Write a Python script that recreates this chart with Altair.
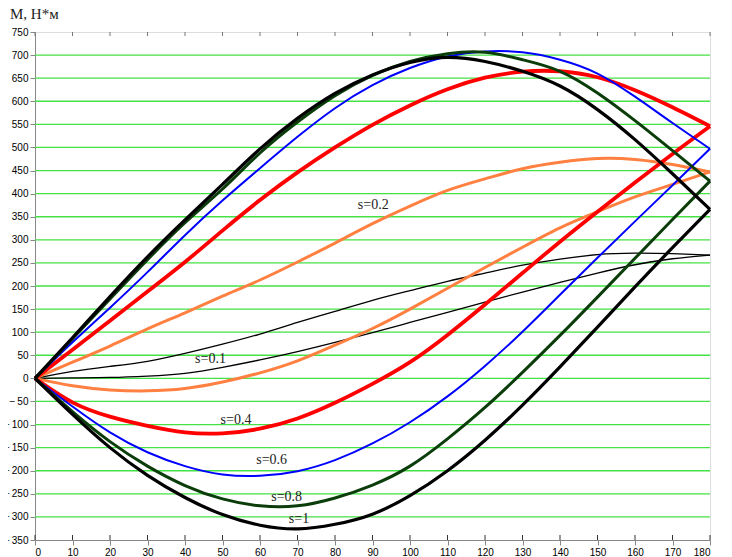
import altair as alt
import pandas as pd

# angle grid (degrees)
X_DEG = [0, 10, 20, 30, 40, 50, 60, 70, 80, 90, 100, 110, 120, 130, 140, 150, 160, 170, 180]

# moment curves, M in N*m (upper / lower branch for each s)
S01_UP = [0, 15, 26, 37, 54, 74, 96, 121, 145, 169, 190, 210, 228, 245, 258, 268, 271, 270, 267]
S01_DN = [0, 1, 2, 5, 11, 24, 40, 58, 78, 99, 121, 143, 165, 187, 208, 228, 246, 259, 267]
S02_UP = [0, 35, 70, 107, 142, 178, 213, 252, 293, 335, 373, 407, 432, 454, 468, 476, 474, 463, 447]
S02_DN = [0, -16, -25, -27, -22, -8, 12, 38, 72, 108, 150, 195, 240, 284, 326, 361, 393, 420, 447]
S04_UP = [0, 62, 125, 188, 252, 320, 386, 446, 500, 549, 591, 626, 651, 664, 665, 652, 624, 587, 546]
S04_DN = [0, -52, -83, -103, -117, -119, -109, -87, -53, -12, 35, 94, 160, 228, 296, 361, 424, 486, 546]
S06_UP = [0, 78, 153, 230, 310, 385, 455, 523, 585, 635, 672, 697, 708, 706, 690, 660, 610, 553, 497]
S06_DN = [0, -61, -117, -160, -190, -208, -211, -201, -177, -141, -95, -39, 27, 101, 181, 261, 340, 418, 497]
S08_UP = [0, 86, 172, 257, 337, 410, 488, 555, 612, 656, 686, 703, 706, 690, 665, 618, 558, 493, 427]
S08_DN = [0, -72, -137, -190, -232, -261, -276, -276, -259, -231, -190, -131, -63, 13, 93, 176, 260, 344, 427]
S10_UP = [0, 88, 177, 263, 343, 420, 497, 563, 617, 657, 684, 695, 686, 665, 633, 582, 517, 443, 366]
S10_DN = [0, -78, -150, -210, -258, -295, -318, -326, -316, -294, -254, -200, -134, -58, 25, 111, 198, 283, 366]

CURVES = [
    ("s=0.1", S01_UP, S01_DN, "#000000", 1.3),
    ("s=0.2", S02_UP, S02_DN, "#ff8040", 3.0),
    ("s=0.4", S04_UP, S04_DN, "#ff0000", 3.8),
    ("s=0.6", S06_UP, S06_DN, "#0000ff", 2.0),
    ("s=0.8", S08_UP, S08_DN, "#0b3d0b", 3.0),
    ("s=1",   S10_UP, S10_DN, "#000000", 3.2),
]

# curve labels
LABEL_TEXT = ["s=0.1", "s=0.2", "s=0.4", "s=0.6", "s=0.8", "s=1"]
LABEL_X = [46.8, 90.2, 53.6, 63.1, 67.1, 70.4]
LABEL_Y = [43, 375, -90, -176, -256, -305]

GRID_Y = [-300, -250, -200, -150, -100, -50, 0, 50, 100, 150, 200, 250, 300,
          350, 400, 450, 500, 550, 600, 650, 700]
Y_TICKS = [-350] + GRID_Y + [750]
X_TICKS = X_DEG

W, H = 675, 508
xs = alt.Scale(domain=[0, 180], nice=False, zero=False)
ys = alt.Scale(domain=[-350, 750], nice=False, zero=False)

FONT = "Liberation Serif"

base_x_axis = alt.Axis(values=X_TICKS, title=None, grid=False)
base_y_axis = alt.Axis(values=Y_TICKS, title=None, grid=False,
                       labelExpr="datum.value < 0 ? '\u2212\u2009' + abs(datum.value) : datum.label")

grid_df = pd.DataFrame({"g": GRID_Y})
grid = alt.Chart(grid_df).mark_rule(color="#44e244", strokeWidth=1.3).encode(
    y=alt.Y("g:Q", scale=ys, axis=base_y_axis),
    x=alt.value(0), x2=alt.value(W),
)

tick_df = pd.DataFrame({"t": X_TICKS})
ticks_bottom = alt.Chart(tick_df).mark_rule(color="#333", strokeWidth=1).encode(
    x=alt.X("t:Q", scale=xs, axis=base_x_axis),
    y=alt.value(H - 5), y2=alt.value(H),
)
ticks_top = alt.Chart(tick_df).mark_rule(color="#777", strokeWidth=1).encode(
    x=alt.X("t:Q", scale=xs, axis=base_x_axis),
    y=alt.value(0), y2=alt.value(4),
)

layers = [grid, ticks_bottom, ticks_top]
for name, up, dn, col, sw in CURVES:
    for branch, vals in (("up", up), ("dn", dn)):
        df = pd.DataFrame({"x": X_DEG, "y": vals})
        layers.append(
            alt.Chart(df).mark_line(color=col, strokeWidth=sw, interpolate="natural").encode(
                x=alt.X("x:Q", scale=xs, axis=base_x_axis),
                y=alt.Y("y:Q", scale=ys, axis=base_y_axis),
            )
        )

lab_df = pd.DataFrame({"t": LABEL_TEXT, "x": LABEL_X, "y": LABEL_Y})
labels = alt.Chart(lab_df).mark_text(font=FONT, fontSize=14, color="#222").encode(
    x=alt.X("x:Q", scale=xs, axis=base_x_axis),
    y=alt.Y("y:Q", scale=ys, axis=base_y_axis),
    text="t:N",
)
layers.append(labels)

title = alt.Chart(pd.DataFrame({"t": ["М, Н*м"]})).mark_text(
    font=FONT, fontSize=15, color="#222", align="left", baseline="middle"
).encode(x=alt.value(-25), y=alt.value(-18), text="t:N")
layers.append(title)

chart = alt.layer(*layers).properties(
    width=W, height=H,
    autosize=alt.AutoSizeParams(type="none"),
    padding={"left": 27, "top": 24, "right": 14, "bottom": 16},
).configure_view(
    stroke="#666", strokeWidth=1.2
).configure_axis(
    labelOverlap=False, labelFlush=False, labelBound=False, grid=False,
    labelFont=FONT, labelColor="#333",
).configure_axisX(
    grid=False, tickSize=0, labelPadding=2, labelFontSize=9,
    domainColor="#333", domainWidth=1.5,
).configure_axisY(
    grid=False, tickSize=2, tickColor="#333", labelPadding=0, labelFontSize=8.5,
    domainColor="#111", domainWidth=1.5,
).configure(background="white")

chart.save("out.html", embed_options={"renderer": "svg", "actions": False})
